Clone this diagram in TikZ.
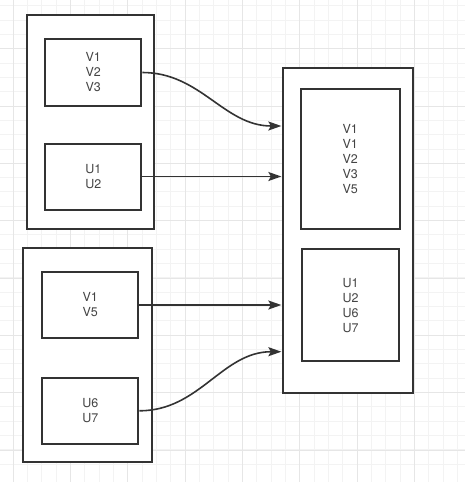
\documentclass[tikz,border=0pt]{standalone}
\usepackage{fontspec}
\setmainfont{TeX Gyre Heros}
\usetikzlibrary{arrows.meta}

\definecolor{gridminor}{HTML}{F3F3F3}
\definecolor{gridmajor}{HTML}{E6E6E6}
\definecolor{edge}{HTML}{333333}
\definecolor{ink}{HTML}{444444}

\tikzset{
	outerbox/.style={draw=edge, fill=white, line width=2pt, inner sep=0pt},
	setbox/.style={draw=edge, fill=white, line width=2pt, inner sep=0pt,
		align=center, text=ink, font=\fontsize{12.5pt}{15pt}\selectfont},
	link/.style={draw=edge, line width=1.6pt, shorten >=1pt,
		-{Stealth[length=13pt, width=9pt, inset=2.5pt]}}
}

\begin{document}
\begin{tikzpicture}[x=1pt, y=-1pt]

	% --- Canvas and grid ---
	\useasboundingbox (0,0) rectangle (465,482);
	\fill[white] (0,0) rectangle (465,482);
	\foreach \k in {0,...,32} {
		\draw[gridminor, line width=1pt] ({13.3+14.33*\k}, 0) -- ({13.3+14.33*\k}, 482);
		\draw[gridminor, line width=1pt] (0, {5.7+14.33*\k}) -- (465, {5.7+14.33*\k});
	}
	\foreach \k in {0,...,8} {
		\draw[gridmajor, line width=1pt] ({13.3+57.33*\k}, 0) -- ({13.3+57.33*\k}, 482);
		\draw[gridmajor, line width=1pt] (0, {48.7+57.33*\k}) -- (465, {48.7+57.33*\k});
	}

	% --- Outer boxes ---
	\node[outerbox, minimum width=127.3pt, minimum height=214.3pt] (outA) at (90.3, 122.2) {};
	\node[outerbox, minimum width=128.4pt, minimum height=214pt] (outB) at (87.5, 354.7) {};
	\node[outerbox, minimum width=129.7pt, minimum height=325pt] (outR) at (348.2, 230.5) {};

	% --- Left sets ---
	\node[setbox, minimum width=96pt, minimum height=67pt] (v123) at (93.3, 72.5) {V1\\V2\\V3};
	\node[setbox, minimum width=96pt, minimum height=66pt] (u12) at (93.3, 176.5) {U1\\U2};
	\node[setbox, minimum width=96pt, minimum height=66.6pt] (v15) at (90.3, 305) {V1\\V5};
	\node[setbox, minimum width=96pt, minimum height=66.3pt] (u67) at (90.3, 410.8) {U6\\U7};

	% --- Merged sets ---
	\node[setbox, minimum width=99.3pt, minimum height=140pt] (vall) at (350.3, 159.3) {V1\\V1\\V2\\V3\\V5};
	\node[setbox, minimum width=96.7pt, minimum height=111.7pt] (uall) at (350.7, 305.2) {U1\\U2\\U6\\U7};

	% --- Arrow ends on the merged box ---
	\path (outR.north west) ++(0,59) coordinate (inA);
	\path (outR.north west) ++(0,284.7) coordinate (inD);

	% --- Connectors ---
	\draw[link] (v123.east) to[out=0, in=180] (inA);
	\draw[link] (u12.east) -- (u12.east -| outR.west);
	\draw[link] (v15.east) -- (v15.east -| outR.west);
	\draw[link] (u67.east) to[out=0, in=180] (inD);

\end{tikzpicture}
\end{document}
